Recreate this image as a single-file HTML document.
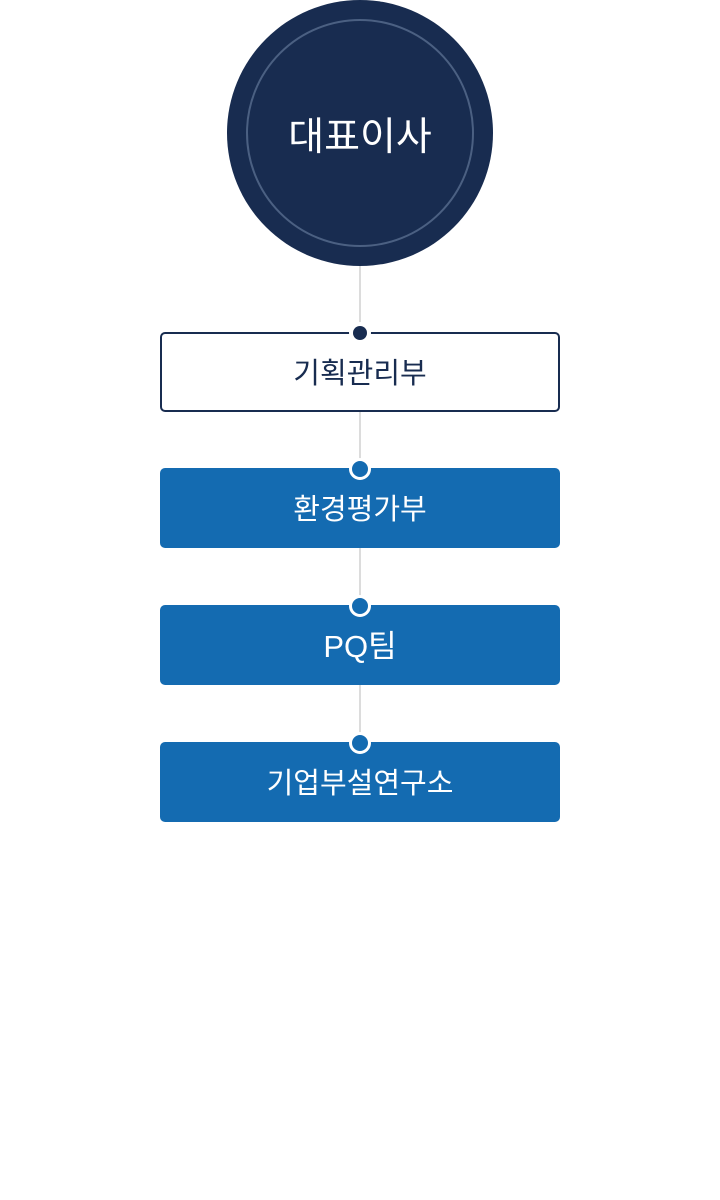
<!DOCTYPE html>
<html><head><meta charset="utf-8"><style>
html,body{margin:0;padding:0;background:#fff;}
body{width:720px;height:1200px;position:relative;overflow:hidden;font-family:"Liberation Sans","Noto Sans CJK KR",sans-serif;}
.line{position:absolute;left:359px;width:2px;background:#dcdcdc;}
.circle{position:absolute;left:227px;top:0;width:266px;height:266px;border-radius:50%;background:#182c50;}
.ring{position:absolute;left:246px;top:19px;width:224px;height:224px;border-radius:50%;border:2px solid #4b6082;}
.ctext{position:absolute;left:227px;top:5px;width:266px;height:266px;line-height:266px;text-align:center;color:#fff;font-size:39px;font-weight:400;}
.box{position:absolute;left:160px;width:400px;height:80px;border-radius:5px;text-align:center;line-height:84px;font-size:29px;box-sizing:border-box;}
.b1{top:332px;border:2px solid #182c50;background:#fff;color:#182c50;line-height:80px;font-weight:400;}
.blue{background:#146bb1;color:#fff;}
.dot{position:absolute;border-radius:50%;}
</style></head><body>
<div class="line" style="top:266px;height:66px"></div>
<div class="line" style="top:411px;height:57px"></div>
<div class="line" style="top:548px;height:57px"></div>
<div class="line" style="top:685px;height:57px"></div>

<div class="circle"></div>
<div class="ring"></div>
<div class="ctext">대표이사</div>

<div class="box b1">기획관리부</div>
<div class="dot" style="left:349px;top:322px;width:22px;height:22px;background:#fff"></div>
<div class="dot" style="left:353px;top:326px;width:14px;height:14px;background:#182c50"></div>

<div class="box blue" style="top:468px">환경평가부</div>
<div class="dot" style="left:349px;top:458px;width:16px;height:16px;background:#146bb1;border:3px solid #fff"></div>

<div class="box blue" style="top:605px;font-size:31px">PQ팀</div>
<div class="dot" style="left:349px;top:595px;width:16px;height:16px;background:#146bb1;border:3px solid #fff"></div>

<div class="box blue" style="top:742px">기업부설연구소</div>
<div class="dot" style="left:349px;top:732px;width:16px;height:16px;background:#146bb1;border:3px solid #fff"></div>
</body></html>
